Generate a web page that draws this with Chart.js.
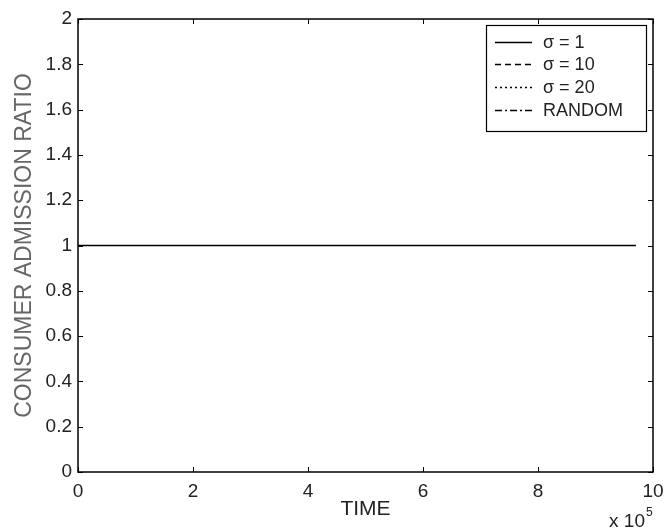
<!DOCTYPE html>
<html>
<head>
<meta charset="utf-8">
<script src="https://cdn.jsdelivr.net/npm/chart.js@4/dist/chart.umd.min.js"></script>
<style>
  body { margin: 0; background: #fff; }
  #wrap { width: 664px; height: 529px; }
</style>
</head>
<body>
<div id="wrap"><canvas id="mainChart"></canvas></div>
<script>
// time samples (raw units, axis shows x 10^5)
var times = [0, 100000, 200000, 300000, 400000, 500000, 600000, 700000, 800000, 900000, 970000];
// admission ratio for each run
var sigma1 = [1, 1, 1, 1, 1, 1, 1, 1, 1, 1, 1];
var sigma10 = [1, 1, 1, 1, 1, 1, 1, 1, 1, 1, 1];
var sigma20 = [1, 1, 1, 1, 1, 1, 1, 1, 1, 1, 1];
var randomRun = [1, 1, 1, 1, 1, 1, 1, 1, 1, 1, 1];
var seriesNames = ["\u03C3 = 1", "\u03C3 = 10", "\u03C3 = 20", "RANDOM"];
var dashes = [[], [6, 4], [2, 3], [7, 3, 2, 3]];

var FONT = "'Liberation Sans', Arial, sans-serif";

function pts(ys) {
    var out = [];
    for (var i = 0; i < times.length; i++) out.push({x: times[i], y: ys[i]});
    return out;
}

var allSeries = [sigma1, sigma10, sigma20, randomRun];
var datasets = [];
// draw solid last so it sits on top
for (var k = allSeries.length - 1; k >= 0; k--) {
    datasets.push({
        label: seriesNames[k],
        data: pts(allSeries[k]),
        borderColor: '#000',
        borderWidth: k == 0 ? 1.4 : 1,
        borderDash: dashes[k],
        pointRadius: 0,
        fill: false
    });
}

// frame, inward ticks, legend box, exponent text
var matlabStyle = {
    id: 'matlabStyle',
    afterDraw: function(chart) {
        var ctx = chart.ctx;
        var a = chart.chartArea;
        var xs = chart.scales.x, ys = chart.scales.y;
        ctx.save();
        ctx.strokeStyle = '#000';
        ctx.lineWidth = 1.5;
        ctx.strokeRect(a.left, a.top, a.right - a.left, a.bottom - a.top);
        ctx.lineWidth = 1;
        var tl = 5;
        ctx.beginPath();
        xs.ticks.forEach(function(t) {
            var px = Math.round(xs.getPixelForValue(t.value)) + 0.5;
            ctx.moveTo(px, a.bottom); ctx.lineTo(px, a.bottom - tl);
            ctx.moveTo(px, a.top); ctx.lineTo(px, a.top + tl);
        });
        ys.ticks.forEach(function(t) {
            var py = Math.round(ys.getPixelForValue(t.value)) + 0.5;
            ctx.moveTo(a.left, py); ctx.lineTo(a.left + tl, py);
            ctx.moveTo(a.right, py); ctx.lineTo(a.right - tl, py);
        });
        ctx.stroke();

        // legend
        var bx = a.right - 167, by = a.top + 6, bw = 160, bh = 106;
        ctx.fillStyle = '#fff';
        ctx.fillRect(bx, by, bw, bh);
        ctx.lineWidth = 1.2;
        ctx.strokeRect(bx + 0.5, by + 0.5, bw, bh);
        ctx.font = '18px ' + FONT;
        ctx.textBaseline = 'middle';
        ctx.textAlign = 'left';
        var rowY = [42, 64, 87, 110];
        for (var i = 0; i < seriesNames.length; i++) {
            var y = rowY[i] + 0.5;
            ctx.beginPath();
            ctx.setLineDash(dashes[i]);
            ctx.lineWidth = 1.3;
            ctx.moveTo(bx + 9, y);
            ctx.lineTo(bx + 46, y);
            ctx.stroke();
            ctx.setLineDash([]);
            ctx.fillStyle = '#222';
            ctx.fillText(seriesNames[i], bx + 57, rowY[i] + 1);
        }

        // exponent label
        ctx.fillStyle = '#222';
        ctx.font = '19px ' + FONT;
        ctx.textBaseline = 'alphabetic';
        ctx.textAlign = 'right';
        ctx.fillText('x 10', 645, 527);
        ctx.textAlign = 'left';
        ctx.font = '12px ' + FONT;
        ctx.fillText('5', 646, 516);
        ctx.restore();
    }
};

var chart = new Chart(document.getElementById('mainChart').getContext('2d'), {
    type: 'line',
    data: { datasets: datasets },
    options: {
        responsive: true,
        maintainAspectRatio: false,
        animation: false,
        layout: { padding: { left: 0, top: 19, right: 11, bottom: 0 } },
        plugins: { legend: { display: false }, tooltip: { enabled: false } },
        scales: {
            x: {
                type: 'linear',
                min: 0, max: 1000000,
                grid: { display: false, drawTicks: false },
                border: { display: false },
                ticks: {
                    stepSize: 200000,
                    color: '#222',
                    font: { family: FONT, size: 19 },
                    padding: 8,
                    maxRotation: 0,
                    callback: function(v) { return v / 100000; }
                },
                title: {
                    display: true, text: 'TIME', color: '#222',
                    font: { family: FONT, size: 21 }, padding: { top: 0, bottom: 7 }
                },
                afterFit: function(s) { s.height = 57; s.paddingRight = 0; s.paddingLeft = 0; }
            },
            y: {
                min: 0, max: 2,
                grid: { display: false, drawTicks: false },
                border: { display: false },
                ticks: {
                    stepSize: 0.2,
                    color: '#222',
                    font: { family: FONT, size: 19 },
                    padding: 6,
                    callback: function(v) { return Math.round(v * 10) / 10; }
                },
                title: {
                    display: true, text: 'CONSUMER ADMISSION RATIO', color: '#666',
                    font: { family: FONT, size: 23 }, padding: { top: 11, bottom: 0 }
                },
                afterFit: function(s) { s.width = 78; s.paddingTop = 0; s.paddingBottom = 0; }
            }
        }
    },
    plugins: [matlabStyle]
});
</script>
</body>
</html>
